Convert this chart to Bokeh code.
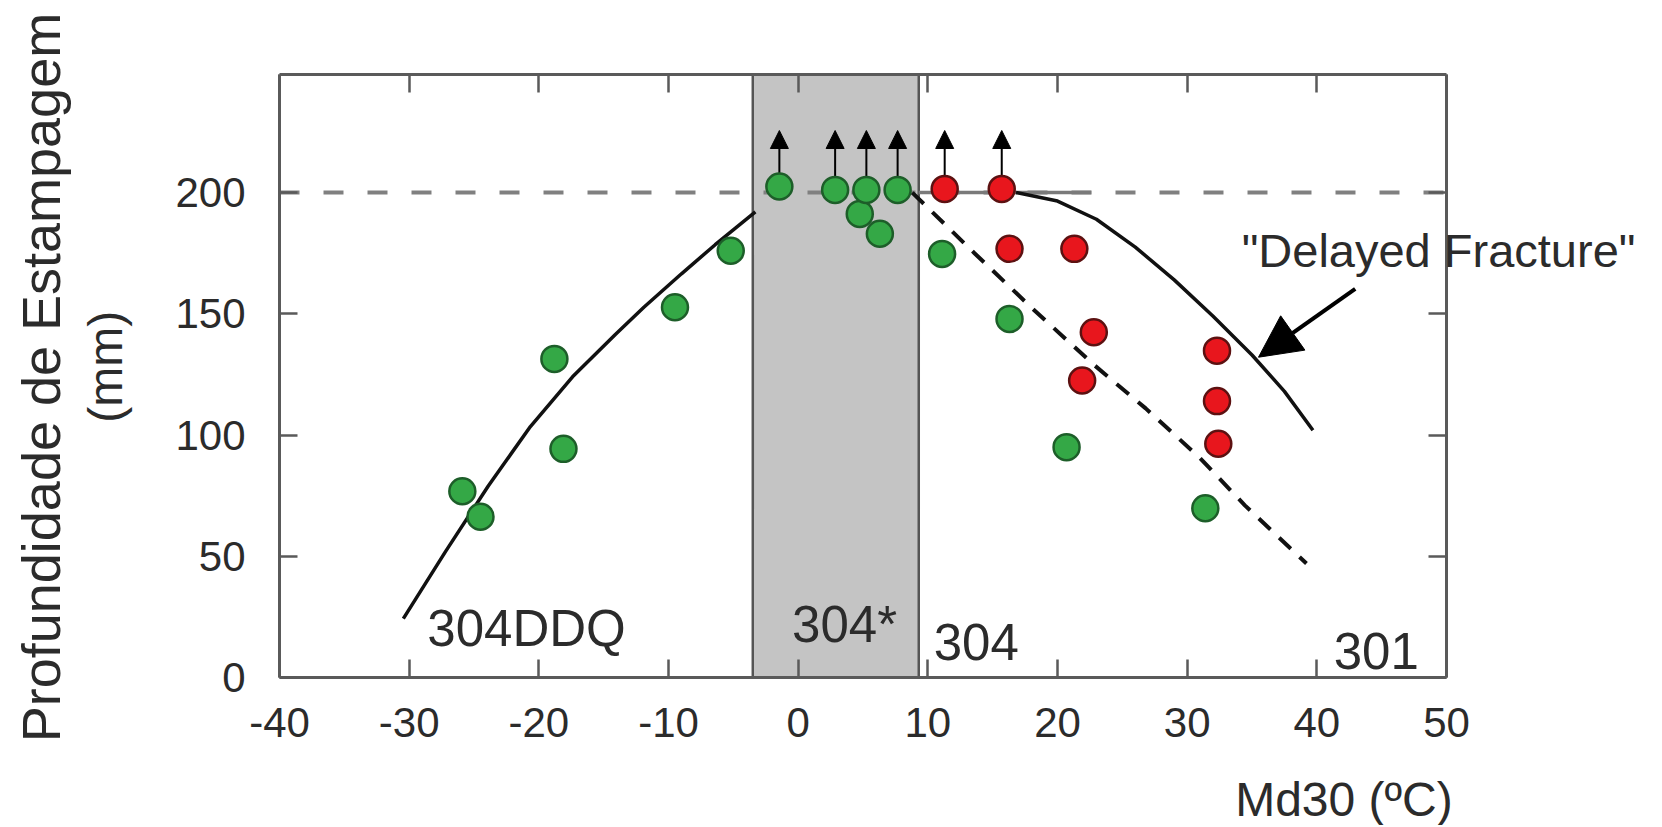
from bokeh.plotting import figure
from bokeh.models import (Range1d, FixedTicker, LinearAxis, BoxAnnotation, Label,
                          Arrow, NormalHead, ColumnDataSource, CustomJSTickFormatter)
from bokeh.embed import file_html
from bokeh.resources import INLINE

# ---------------- data ----------------
x_ticks = [-40, -30, -20, -10, 0, 10, 20, 30, 40, 50]
y_ticks = [0, 50, 100, 150, 200]

green_x = [-25.9, -24.5, -18.8, -18.1, -9.5, -5.2, -1.45, 2.85, 4.75, 5.26, 6.3, 7.67, 11.1, 16.3, 20.7, 31.4]
green_y = [76.8, 66.3, 131.4, 94.3, 152.7, 176.0, 202.5, 201.1, 191.2, 201.1, 183.0, 201.1, 174.7, 147.9, 95.0, 69.8]
green_up = [0, 0, 0, 0, 0, 0, 1, 1, 0, 1, 0, 1, 0, 0, 0, 0]

red_x = [11.3, 15.7, 16.3, 21.3, 22.8, 21.9, 32.3, 32.3, 32.4]
red_y = [201.5, 201.5, 176.8, 176.8, 142.4, 122.5, 134.8, 114.0, 96.4]
red_up = [1, 1, 0, 0, 0, 0, 0, 0, 0]

curve_ddq_x = [-30.45, -27.2, -23.9, -20.65, -17.4, -14.1, -11.9, -9.0, -6.4, -3.3]
curve_ddq_y = [24.3, 51.9, 79.0, 103.5, 124.0, 141.5, 152.7, 166.5, 178.5, 192.0]

curve_delayed_x = [16.8, 20.0, 23.0, 26.0, 29.0, 32.0, 35.0, 37.5, 39.7]
curve_delayed_y = [200.0, 196.5, 189.0, 177.5, 164.0, 149.0, 133.0, 118.0, 102.0]

curve_dashed_x = [8.8, 13.6, 18.1, 22.8, 26.8, 30.9, 34.45, 39.2]
curve_dashed_y = [200.0, 175.0, 152.0, 129.0, 111.0, 91.0, 71.0, 47.0]

LIMIT_DEPTH = 200          # test limit (mm)
BAND_304STAR = (-3.5, 9.3) # Md30 range of 304*
SOLID_LIMIT_END = 22.6
ARROW_TOP = 225.6

FONT = "Liberation Sans"
TXT = "#2b2b2b"
AX = "#5a5a5a"

p = figure(width=1660, height=825, x_range=Range1d(-40, 50), y_range=Range1d(0, 248.7),
           output_backend="svg", toolbar_location=None,
           min_border_left=279, min_border_right=214, min_border_top=74, min_border_bottom=148)
p.grid.visible = False
p.outline_line_color = None
p.background_fill_color = "white"
p.border_fill_color = "white"

fmt = CustomJSTickFormatter(code="return tick.toString();")

def style_axis(ax, ticks, show_labels, standoff):
    ax.ticker = FixedTicker(ticks=ticks)
    ax.formatter = fmt
    ax.major_tick_in = 18
    ax.major_tick_out = 0
    ax.minor_tick_line_color = None
    ax.axis_line_color = AX
    ax.axis_line_width = 3
    ax.major_tick_line_color = AX
    ax.major_tick_line_width = 2.5
    ax.major_label_text_font = FONT
    ax.major_label_standoff = standoff
    if show_labels:
        ax.major_label_text_font_size = "42px"
        ax.major_label_text_color = TXT
    else:
        ax.major_label_text_font_size = "1px"
        ax.major_label_text_alpha = 0

style_axis(p.xaxis[0], x_ticks, True, 30)
style_axis(p.yaxis[0], y_ticks, True, 34)
top_ax = LinearAxis()
right_ax = LinearAxis()
style_axis(top_ax, x_ticks, False, 2)
style_axis(right_ax, y_ticks, False, 2)
p.add_layout(top_ax, "above")
p.add_layout(right_ax, "right")

# shaded 304* region
band = BoxAnnotation(left=BAND_304STAR[0], right=BAND_304STAR[1], fill_color="#c4c4c4", fill_alpha=1.0,
                     line_color="#555555", line_alpha=1.0, line_width=2.5, level="underlay")
p.add_layout(band)

# "up" arrows for specimens that did not fail at the limit
ax_list, ay_list = [], []
for xs, ys, ups in ((green_x, green_y, green_up), (red_x, red_y, red_up)):
    for xv, yv, u in zip(xs, ys, ups):
        if u:
            ax_list.append(xv)
            ay_list.append(yv)
arr_src = ColumnDataSource(dict(x0=ax_list, y0=ay_list, x1=ax_list, y1=[ARROW_TOP] * len(ax_list)))
p.add_layout(Arrow(end=NormalHead(size=18, fill_color="black", line_color="black"),
                   x_start="x0", y_start="y0", x_end="x1", y_end="y1", source=arr_src,
                   line_width=2, line_color="black", level="underlay"))

# limit line at 200 mm
p.line([-40, 50], [LIMIT_DEPTH, LIMIT_DEPTH], line_color="#808080", line_width=4, line_dash="20 24")
p.line([BAND_304STAR[1], SOLID_LIMIT_END], [LIMIT_DEPTH, LIMIT_DEPTH], line_color="#7a7a7a", line_width=3.5)

# trend curves
p.line(curve_ddq_x, curve_ddq_y, line_color="#111111", line_width=3.5)
p.line(curve_delayed_x, curve_delayed_y, line_color="#111111", line_width=3.5)
p.line(curve_dashed_x, curve_dashed_y, line_color="#111111", line_width=4, line_dash="16 12")

# points
p.scatter(green_x, green_y, size=26, fill_color="#34a846", line_color="#1d5e29", line_width=2.5)
p.scatter(red_x, red_y, size=26, fill_color="#e8161d", line_color="#5c1111", line_width=2.5)

# annotation arrow for "Delayed Fracture"
p.add_layout(Arrow(end=NormalHead(size=42, fill_color="black", line_color="black"),
                   x_start=42.96, y_start=160.3, x_end=35.5, y_end=132.1,
                   line_width=4, line_color="black"))

def lab(x, y, text, size="51px", place="center", **kw):
    kw.setdefault("text_baseline", "bottom")
    l = Label(x=x, y=y, text=text, text_font=FONT, text_font_size=size, text_color=TXT, **kw)
    if place == "center":
        p.add_layout(l)
    else:
        p.add_layout(l, place)

lab(-28.6, 8.6, "304DDQ")
lab(-0.47, 10.0, "304*")
lab(10.45, 7.2, "304")
lab(41.3, 3.3, "301")
lab(34.2, 165.2, "\"Delayed Fracture\"", size="47px", place="above")
lab(33.7, -61.2, "Md30 (ºC)", size="48px", place="below")
lab(-58.4, 123.7, "Profundidade de Estampagem", size="54px", place="left", angle=90,
    angle_units="deg", text_align="center", text_baseline="middle")
lab(-53.4, 128.2, "(mm)", size="48px", place="left", angle=90, angle_units="deg",
    text_align="center", text_baseline="middle")

open("out.html", "w").write(file_html(p, INLINE))
